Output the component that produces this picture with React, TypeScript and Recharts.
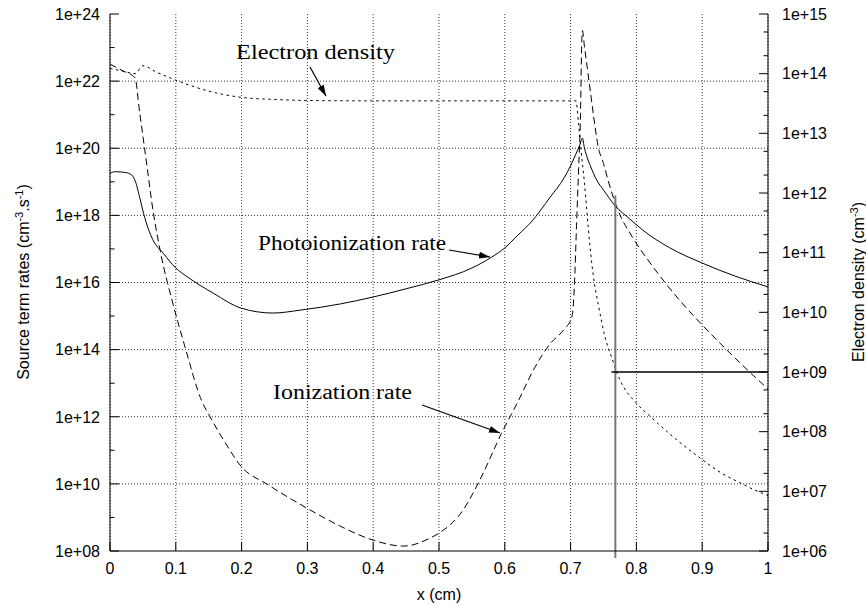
import React from "react";
import {
  LineChart,
  Line,
  XAxis,
  YAxis,
  CartesianGrid,
  ReferenceLine,
} from "recharts";

// x positions (cm) and values
const photoX = [0, 0.008, 0.023, 0.033, 0.038, 0.046, 0.051, 0.065, 0.081, 0.1, 0.117, 0.157, 0.2, 0.248, 0.289, 0.35, 0.4, 0.45, 0.5, 0.55, 0.58, 0.6, 0.62, 0.64, 0.669, 0.69, 0.7, 0.708, 0.714, 0.718, 0.721, 0.724, 0.73, 0.74, 0.75, 0.768, 0.79, 0.81, 0.85, 0.9, 0.95, 1.0];
const photoY = [1.8e19, 2e19, 1.9e19, 1.6e19, 1.1e19, 2.9e18, 1.15e18, 1.9e17, 7.4e16, 2.7e16, 1.5e16, 4.8e15, 1.7e15, 1.23e15, 1.5e15, 2.3e15, 3.7e15, 6.5e15, 1.2e16, 2.7e16, 5.7e16, 1.07e17, 2.6e17, 6.3e17, 3.5e18, 1.3e19, 3e19, 6.7e19, 1.25e20, 2e20, 1.02e20, 6.3e19, 3e19, 1.1e19, 5.7e18, 1.9e18, 7.8e17, 3.6e17, 1.1e17, 3.8e16, 1.55e16, 7.4e15];

const ionX = [0, 0.02, 0.038, 0.045, 0.052, 0.058, 0.063, 0.077, 0.095, 0.114, 0.139, 0.152, 0.175, 0.2, 0.238, 0.299, 0.35, 0.4, 0.446, 0.486, 0.5, 0.537, 0.562, 0.595, 0.621, 0.645, 0.669, 0.689, 0.702, 0.706, 0.709, 0.712, 0.715, 0.717, 0.718, 0.721, 0.725, 0.73, 0.735, 0.742, 0.75, 0.757, 0.77, 0.795, 0.821, 0.86, 0.912, 0.95, 0.975, 1.0];
const ionY = [3.2e22, 2e22, 1.26e22, 1.2e21, 1.2e20, 1.6e19, 2.9e18, 7.6e16, 2.6e15, 1.2e14, 3.1e12, 1e12, 1.7e11, 3.2e10, 1e10, 1.9e9, 5.5e8, 2.1e8, 1.4e8, 2.4e8, 3.4e8, 1.7e9, 1.3e10, 3.2e11, 3.1e12, 2.8e13, 1.5e14, 3.8e14, 9.5e14, 1e16, 5e17, 2e19, 1e21, 1.5e23, 3.2e23, 1.1e23, 2.8e22, 5e21, 9e20, 1.1e20, 3.5e19, 1.1e19, 1.78e18, 2.1e17, 3.8e16, 4e15, 3.1e14, 5.6e13, 1.9e13, 6.7e12];

const densX = [0, 0.02, 0.038, 0.05, 0.07, 0.1, 0.15, 0.2, 0.25, 0.3, 0.4, 0.5, 0.6, 0.7, 0.708, 0.712, 0.716, 0.721, 0.727, 0.734, 0.743, 0.752, 0.762, 0.775, 0.8, 0.821, 0.86, 0.897, 0.93, 0.957, 0.98, 1.0];
const densY = [1.23e14, 1.1e14, 1e14, 1.36e14, 1.07e14, 7.8e13, 5.1e13, 4e13, 3.7e13, 3.55e13, 3.5e13, 3.5e13, 3.5e13, 3.5e13, 3.5e13, 1.5e13, 5e12, 1.5e12, 2.5e11, 4.5e10, 1.2e10, 4e9, 1.8e9, 7.4e8, 3e8, 1.8e8, 7.5e7, 3.6e7, 2e7, 1.4e7, 1.05e7, 8.5e6];

// front marker: vertical line on the left axis, horizontal level on the right axis
const frontX = 0.768;
const frontTop = 3.9e18;
const frontBottom = 6.2e7;
const frontLevel = 1e9;
const frontStart = 0.762;

const xTicks = [0, 0.1, 0.2, 0.3, 0.4, 0.5, 0.6, 0.7, 0.8, 0.9, 1];
const leftTicks = [1e8, 1e9, 1e10, 1e11, 1e12, 1e13, 1e14, 1e15, 1e16, 1e17, 1e18, 1e19, 1e20, 1e21, 1e22, 1e23, 1e24];
const leftGrid = [1e10, 1e12, 1e14, 1e16, 1e18, 1e20, 1e22];
const rightMajor = [1e6, 1e7, 1e8, 1e9, 1e10, 1e11, 1e12, 1e13, 1e14, 1e15];
const rightTicks = rightMajor.flatMap((v, i) =>
  i < rightMajor.length - 1 ? [v, 2 * v, 5 * v] : [v]
);

const toRows = (xs: number[], ys: number[]) => xs.map((x, i) => ({ x, v: ys[i] }));
const photoData = toRows(photoX, photoY);
const ionData = toRows(ionX, ionY);
const densData = toRows(densX, densY);

const FONT = "'Liberation Sans', Arial, sans-serif";
const SERIF = "'Liberation Serif', 'Times New Roman', serif";

const fmtExp = (v: number) => {
  const e = Math.round(Math.log10(v));
  return `1e+${e < 10 ? "0" + e : e}`;
};

const LeftTick = (props: any) => {
  const { x, y, payload } = props;
  const e = Math.round(Math.log10(payload.value));
  const major = e % 2 === 0;
  return (
    <g>
      <line x1={x} x2={x + (major ? 9 : 4.5)} y1={y} y2={y} stroke="#000" />
      {major && (
        <text x={x - 10} y={y} dy="0.36em" textAnchor="end" fontFamily={FONT} fontSize={16} fill="#000">
          {fmtExp(payload.value)}
        </text>
      )}
    </g>
  );
};

const RightTick = (props: any) => {
  const { x, y, payload } = props;
  const l = Math.log10(payload.value);
  const major = Math.abs(l - Math.round(l)) < 1e-6;
  return (
    <g>
      <line x1={x} x2={x - (major ? 9 : 4.5)} y1={y} y2={y} stroke="#000" />
      {major && (
        <text x={x + 14} y={y} dy="0.36em" textAnchor="start" fontFamily={FONT} fontSize={16} fill="#000">
          {fmtExp(payload.value)}
        </text>
      )}
    </g>
  );
};

const BottomTick = (props: any) => {
  const { x, y, payload } = props;
  return (
    <g>
      <line x1={x} x2={x} y1={y} y2={y - 9} stroke="#000" />
      <text x={x} y={y + 23} textAnchor="middle" fontFamily={FONT} fontSize={16} fill="#000">
        {String(payload.value)}
      </text>
    </g>
  );
};

const TopTick = (props: any) => {
  const { x, y } = props;
  return <line x1={x} x2={x} y1={y} y2={y + 9} stroke="#000" />;
};

const Arrow = ({ x1, y1, x2, y2 }: { x1: number; y1: number; x2: number; y2: number }) => (
  <line x1={x1} y1={y1} x2={x2} y2={y2} stroke="#000" strokeWidth={1.2} markerEnd="url(#ah)" />
);

export default function App() {
  return (
    <div style={{ position: "absolute", left: 0, top: 0, width: 866, height: 605, background: "#fff" }}>
      <LineChart width={866} height={605} margin={{ top: 14, right: 8, bottom: 14, left: 10 }}>
        <CartesianGrid
          yAxisId="left"
          horizontalValues={leftGrid}
          stroke="#333"
          strokeDasharray="1 2"
        />
        <XAxis
          dataKey="x"
          type="number"
          domain={[0, 1]}
          ticks={xTicks}
          interval={0}
          height={40}
          tickSize={0}
          tickMargin={0}
          tickLine={false}
          axisLine={{ stroke: "#000" }}
          tick={<BottomTick />}
          allowDuplicatedCategory={false}
        />
        <XAxis
          xAxisId="top"
          orientation="top"
          dataKey="x"
          type="number"
          domain={[0, 1]}
          ticks={xTicks}
          interval={0}
          height={0}
          tickSize={0}
          tickMargin={0}
          tickLine={false}
          axisLine={{ stroke: "#000" }}
          tick={<TopTick />}
        />
        <YAxis
          yAxisId="left"
          scale="log"
          domain={[1e8, 1e24]}
          allowDataOverflow
          ticks={leftTicks}
          interval={0}
          width={100}
          tickSize={0}
          tickMargin={0}
          tickLine={false}
          axisLine={{ stroke: "#000" }}
          tick={<LeftTick />}
        />
        <YAxis
          yAxisId="right"
          orientation="right"
          scale="log"
          domain={[1e6, 1e15]}
          allowDataOverflow
          ticks={rightTicks}
          interval={0}
          width={90}
          tickSize={0}
          tickMargin={0}
          tickLine={false}
          axisLine={{ stroke: "#000" }}
          tick={<RightTick />}
        />
        <Line
          yAxisId="left"
          data={photoData}
          dataKey="v"
          type="monotone"
          stroke="#000"
          strokeWidth={1}
          dot={false}
          isAnimationActive={false}
        />
        <Line
          yAxisId="left"
          data={ionData}
          dataKey="v"
          type="monotone"
          stroke="#000"
          strokeWidth={1}
          strokeDasharray="7 4"
          dot={false}
          isAnimationActive={false}
        />
        <Line
          yAxisId="right"
          data={densData}
          dataKey="v"
          type="monotone"
          stroke="#000"
          strokeWidth={1}
          strokeDasharray="2.5 3.5"
          dot={false}
          isAnimationActive={false}
        />
        <ReferenceLine
          yAxisId="left"
          segment={[{ x: frontX, y: frontTop }, { x: frontX, y: frontBottom }]}
          stroke="#777"
          strokeWidth={2}
          ifOverflow="visible"
        />
        <ReferenceLine
          yAxisId="right"
          segment={[{ x: frontStart, y: frontLevel }, { x: 1, y: frontLevel }]}
          stroke="#000"
          strokeWidth={1.5}
        />
      </LineChart>

      <svg width={866} height={605} style={{ position: "absolute", left: 0, top: 0, pointerEvents: "none" }}>
        <defs>
          <marker id="ah" markerUnits="userSpaceOnUse" markerWidth={11} markerHeight={7} refX={11} refY={3.5} orient="auto">
            <path d="M0,0 L11,3.5 L0,7 z" fill="#000" />
          </marker>
        </defs>
        <text x={236} y={59} fontFamily={SERIF} fontSize={20} textLength={159} lengthAdjust="spacingAndGlyphs" fill="#000">
          Electron density
        </text>
        <Arrow x1={310} y1={67} x2={326} y2={96} />
        <text x={258} y={250} fontFamily={SERIF} fontSize={20} textLength={188} lengthAdjust="spacingAndGlyphs" fill="#000">
          Photoionization rate
        </text>
        <Arrow x1={449} y1={250} x2={490} y2={257} />
        <text x={273} y={399} fontFamily={SERIF} fontSize={20} textLength={139} lengthAdjust="spacingAndGlyphs" fill="#000">
          Ionization rate
        </text>
        <Arrow x1={422} y1={405} x2={500} y2={433} />

        <text x={439} y={600} textAnchor="middle" fontFamily={FONT} fontSize={16} fill="#000">
          x (cm)
        </text>
        <text transform="translate(29,282) rotate(-90)" textAnchor="middle" fontFamily={FONT} fontSize={16} fill="#000">
          Source term rates (cm
          <tspan dy={-6} fontSize={11}>-3</tspan>
          <tspan dy={6}>.s</tspan>
          <tspan dy={-6} fontSize={11}>-1</tspan>
          <tspan dy={6}>)</tspan>
        </text>
        <text transform="translate(864,282) rotate(-90)" textAnchor="middle" fontFamily={FONT} fontSize={16} fill="#000">
          Electron density (cm
          <tspan dy={-6} fontSize={11}>-3</tspan>
          <tspan dy={6}>)</tspan>
        </text>
      </svg>
    </div>
  );
}
